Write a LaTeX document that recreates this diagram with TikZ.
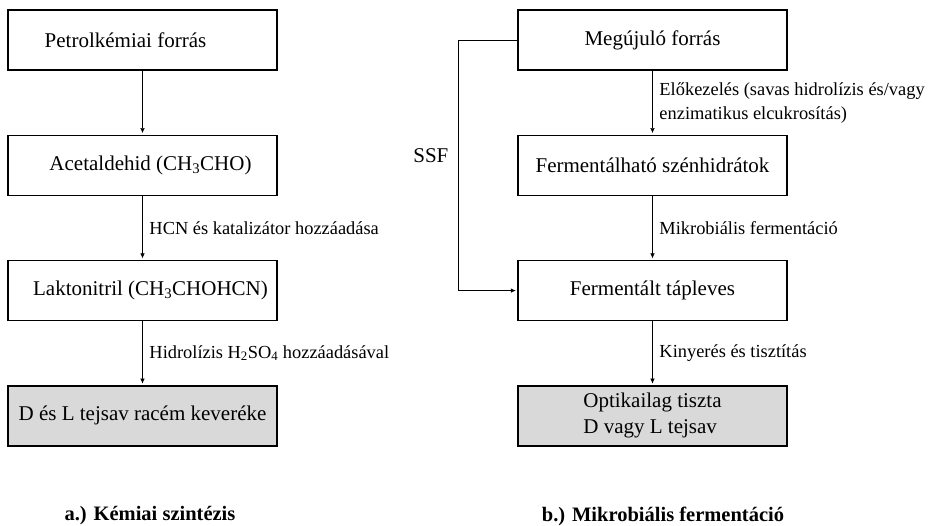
\documentclass[tikz,border=0pt]{standalone}
\usepackage{fontspec}
\setmainfont{Liberation Serif}
\usetikzlibrary{arrows.meta, positioning}
\definecolor{boxgray}{RGB}{217,217,217}

\begin{document}
\begin{tikzpicture}[x=1pt, y=-1pt]
	\tikzset{>={Latex[length=7pt, width=6pt]}, line width=1.3pt, node distance=64pt,
		box/.style={draw, line width=1.3pt, minimum width=269pt, minimum height=60pt, inner sep=0pt, align=center, font=\fontsize{21}{26}\selectfont},
		result/.style={box, fill=boxgray},
		lbl/.style={right, xshift=3pt, align=left, font=\fontsize{18.4}{24}\selectfont},
		caption/.style={font=\fontsize{20.5}{24}\selectfont\bfseries} }

	\useasboundingbox (0,0) rectangle (928,526);

	% a.) chemical route
	\node[box] (a1) at (142.5,40) {Petrolkémiai forrás\hspace*{34pt}};
	\node[box, below=of a1] (a2) {\hspace*{16pt}Acetaldehid (CH\textsubscript{3}CHO)};
	\node[box, below=of a2] (a3) {\hspace*{16pt}Laktonitril (CH\textsubscript{3}CHOHCN)};
	\node[result, below=of a3] (a4) {D és L tejsav racém keveréke};

	\draw[->] (a1) -- (a2);
	\draw[->] (a2) -- node[lbl] {HCN és katalizátor hozzáadása} (a3);
	\draw[->] (a3) -- node[lbl] {Hidrolízis H\textsubscript{2}SO\textsubscript{4} hozzáadásával} (a4);

	% b.) microbial route
	\node[box] (b1) at (652.5,40) {Megújuló forrás};
	\node[box, below=of b1] (b2) {Fermentálható szénhidrátok};
	\node[box, below=of b2] (b3) {Fermentált tápleves};
	\node[result, below=of b3, align=left] (b4) {Optikailag tiszta\\D vagy L tejsav};

	\draw[->] (b1) -- node[lbl] {Előkezelés (savas hidrolízis és/vagy\\enzimatikus elcukrosítás)} (b2);
	\draw[->] (b2) -- node[lbl] {Mikrobiális fermentáció} (b3);
	\draw[->] (b3) -- node[lbl] {Kinyerés és tisztítás} (b4);

	\draw[->] (b1.west) -- ++(-59,0) coordinate (ssf)
		-- node[left, pos=0.46, xshift=-6pt, font=\fontsize{21}{26}\selectfont] {SSF} (ssf |- b3.west) -- (b3.west);

	\node[caption] (capa) at (150,516) {a.) Kémiai szintézis};
	\node[caption] (capb) at (663,516) {b.) Mikrobiális fermentáció};
\end{tikzpicture}
\end{document}
